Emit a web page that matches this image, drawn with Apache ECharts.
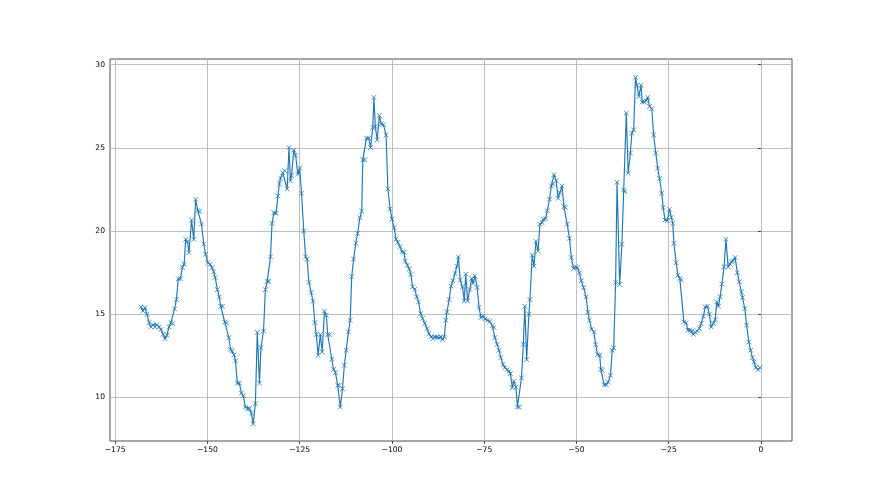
<!DOCTYPE html>
<html>
<head>
<meta charset="utf-8">
<script src="https://cdn.jsdelivr.net/npm/echarts@6/dist/echarts.min.js"></script>
<style>html,body{margin:0;padding:0;background:#fff}#c{width:880px;height:495px}</style>
</head>
<body>
<div id="c"></div>
<script>
const xs = [
-168.0,-167.5,-166.9,-166.4,-165.8,-165.3,-164.7,-164.2,-163.7,-163.1,-162.6,-162.0,-161.5,-161.0,-160.4,-159.9,-159.4,-158.9,-158.4,-157.9,-157.3,-156.8,-156.3,-155.9,-155.4,-155.0,-154.3,-153.7,-153.2,-152.6,-152.1,-151.6,-151.0,-150.5,-149.9,
-149.3,-148.76,-148.3,-147.9,-147.3,-146.8,-146.4,-145.9,-145.3,-144.8,-144.2,-143.7,-143.3,-142.8,-142.4,-141.9,-141.35,-140.8,-140.3,-139.7,-139.2,-138.6,-138.1,-137.6,-137.0,-136.5,-135.9,-135.5,-134.8,-134.3,-133.8,-133.4,-132.9,-132.5,-132.0,-131.4,-130.9,-130.5,-130.2,-129.6,-129.1,
-128.4,-127.9,-127.5,-127.2,-126.6,-126.1,-125.5,-125.0,-124.5,-123.9,-123.4,-123.0,-122.5,-121.9,-121.4,-120.9,-120.5,-120.0,-119.4,-118.9,-118.3,-117.8,-117.4,-116.9,-116.3,-115.8,-115.3,-114.7,-114.3,-114.0,-113.4,-112.9,-112.4,-111.8,-111.3,-110.9,-110.4,-109.8,-109.3,-108.7,-108.2,
-107.9,-107.4,-106.9,-106.3,-105.8,-105.2,-104.9,-104.5,-104.0,-103.4,-102.9,-102.3,-101.6,-101.1,-100.5,-100.0,-99.4,-98.9,-98.4,-97.8,-97.3,-96.7,-96.4,-95.8,-95.3,-94.9,-94.4,-93.8,-93.3,-92.8,-92.2,
-91.7,-91.1,-90.5,-90.0,-89.4,-88.9,
-88.3,-87.8,-87.3,-86.7,-86.3,-85.8,-85.4,-85.1,-84.5,-84.0,-83.5,-82.9,-82.4,-82.0,-81.5,-80.9,-80.4,-80.0,-79.5,-78.9,-78.4,-78.0,-77.5,-76.9,-76.4,-75.9,-75.3,-74.8,-74.1,-73.5,-72.8,-72.4,-72.1,-71.5,-71.0,-70.5,-69.9,-69.4,-68.8,-68.3,-67.9,-67.4,-67.0,
-66.4,-66.0,-65.5,-64.9,-64.4,-64.0,-63.5,-62.9,-62.6,-62.0,-61.5,-61.0,-60.4,-59.9,-59.3,-59.0,-58.4,-57.9,-57.3,-56.8,-56.4,-56.1,-55.5,-55.0,-54.5,-53.9,-53.4,-53.0,-52.5,-51.9,-51.4,-50.8,-50.3,-49.8,-49.2,-48.7,-48.1,-47.4,-46.9,-46.5,
-45.9,-45.3,-44.8,-44.3,-43.7,-43.4,-43.0,-42.5,-41.9,-41.4,-40.8,-40.3,-39.9,-39.4,-39.0,-38.3,-37.7,-37.2,-36.9,-36.5,-36.0,-35.4,-35.0,-34.5,-34.0,-33.6,-33.1,-32.5,-32.2,-31.6,-31.1,-30.7,-30.2,-29.6,-29.1,-28.5,-28.0,-27.5,-26.9,-26.5,-26.0,
-25.4,-24.8,-24.3,-23.9,-23.6,-23.0,-22.5,-22.0,-21.6,-20.9,-20.3,-19.8,-19.2,-18.7,-18.3,-17.8,-17.3,-16.7,-16.2,-15.6,-15.1,-14.5,-14.0,-13.5,-12.9,-12.4,-12.0,-11.5,-11.1,-10.6,-10.0,-9.5,-8.9,-8.4,-8.0,-7.5,-7.0,-6.4,-5.9,-5.3,-5.0,-4.4,-3.9,-3.3,-2.8,-2.3,-1.9,-1.4,-0.8,-0.3
];
const ys = [
15.44,15.2,15.4,15.0,14.5,14.24,14.36,14.24,14.36,14.24,14.08,13.8,13.53,13.74,14.24,14.5,14.44,15.32,15.88,17.13,17.13,17.81,18.01,19.5,19.36,18.7,20.66,19.5,21.91,21.23,21.18,20.42,19.22,18.6,18.1,
18.0,17.8,17.55,17.21,16.48,16.04,15.48,15.48,14.52,14.48,13.59,12.87,12.79,12.55,12.19,10.86,10.86,10.26,10.1,9.42,9.3,9.34,9.05,8.41,9.62,13.91,10.86,12.99,13.99,16.48,16.97,16.97,18.45,20.46,21.1,21.06,22.11,22.83,23.17,23.51,23.63,
22.53,25.02,23.01,23.33,24.86,24.54,23.41,23.78,22.27,20.0,18.45,18.31,16.91,16.31,15.78,14.5,13.78,12.53,13.78,12.73,15.18,14.94,13.78,13.78,12.29,11.69,11.49,10.72,10.72,9.42,10.52,11.93,12.83,13.94,14.64,17.27,18.31,19.28,19.86,20.8,21.2,
24.28,24.28,25.58,25.58,25.02,26.22,28.03,26.28,25.48,26.95,26.43,26.39,25.78,22.53,21.33,20.72,20.2,19.52,19.32,19.06,18.76,18.72,18.19,17.95,17.71,17.39,16.65,16.5,16.04,15.74,15.04,
14.75,14.44,14.14,13.84,13.64,13.53,
13.63,13.63,13.6,13.63,13.47,13.63,14.64,15.14,15.88,16.69,17.01,17.45,17.89,18.45,17.05,16.65,15.8,17.41,15.8,16.49,17.15,16.85,17.29,16.61,15.4,14.8,14.88,14.72,14.64,14.56,14.32,14.2,13.6,13.19,12.83,12.39,11.99,11.79,11.67,11.59,11.43,10.58,10.98,
10.62,9.42,9.42,11.18,13.19,15.48,12.27,15.0,15.88,18.55,17.89,19.38,18.81,20.42,20.5,20.7,20.74,21.22,21.91,22.71,22.83,23.39,23.03,21.97,22.31,22.71,21.47,21.42,20.42,19.56,18.41,17.75,17.85,17.81,17.49,17.01,16.61,16.04,15.12,14.64,
14.1,13.94,13.17,12.57,12.53,11.69,11.63,10.76,10.76,10.92,11.33,12.83,12.97,16.91,22.93,16.79,19.2,22.47,22.37,27.09,23.47,24.68,25.88,26.08,29.24,28.76,28.09,28.76,27.75,27.75,27.83,28.03,27.49,27.35,25.78,24.68,23.78,23.17,22.27,21.41,20.66,
20.62,21.31,20.82,20.46,19.26,18.09,17.35,17.15,17.05,14.54,14.48,14.04,14.04,14.0,13.79,13.91,14.0,14.14,14.44,14.88,15.44,15.48,15.0,14.24,14.44,14.68,15.74,15.48,16.04,16.81,17.85,19.5,17.85,18.01,18.15,18.21,18.41,17.49,16.95,16.34,16.0,15.34,14.34,13.33,12.83,12.39,12.13,11.79,11.67,11.79
];
const xTicks = [-175, -150, -125, -100, -75, -50, -25, 0];
const yTicks = [10, 15, 20, 25, 30];

const fmt = v => String(v).replace('-', '\u2212');
const chart = echarts.init(document.getElementById('c'), null, {renderer: 'canvas'});
const data = xs.map((x, i) => [x, ys[i]]);
chart.setOption({
  animation: false,
  backgroundColor: '#ffffff',
  grid: {left: 110, right: 88, top: 59, bottom: 54, show: true, borderColor: '#222', borderWidth: 0.8, backgroundColor: 'transparent'},
  xAxis: {
    type: 'value', min: -176.4, max: 8.4,
    axisLine: {show: false},
    axisTick: {show: true, inside: false, length: 3, lineStyle: {color: '#222', width: 0.8}, customValues: xTicks},
    axisLabel: {show: true, customValues: xTicks, formatter: fmt, color: '#000', fontFamily: 'DejaVu Sans', fontSize: 7.6, margin: 5},
    splitLine: {show: true, lineStyle: {color: '#b0b0b0', width: 0.8}}
  },
  yAxis: {
    type: 'value', min: 7.38, max: 30.34,
    axisLine: {show: false},
    axisTick: {show: true, inside: false, length: 3, lineStyle: {color: '#222', width: 0.8}, customValues: yTicks},
    axisLabel: {show: true, customValues: yTicks, formatter: fmt, color: '#000', fontFamily: 'DejaVu Sans', fontSize: 7.6, margin: 5},
    splitLine: {show: true, lineStyle: {color: '#b0b0b0', width: 0.8}}
  },
  series: [{
    type: 'line',
    data: data,
    showAllSymbol: true,
    symbol: 'path://M0,0L10,10M10,0L0,10',
    symbolSize: 4.6,
    lineStyle: {color: '#1f77b4', width: 1.15},
    itemStyle: {color: '#1f77b4', borderColor: '#1f77b4', borderWidth: 0.8},
    z: 3
  }]
});
</script>
</body>
</html>
